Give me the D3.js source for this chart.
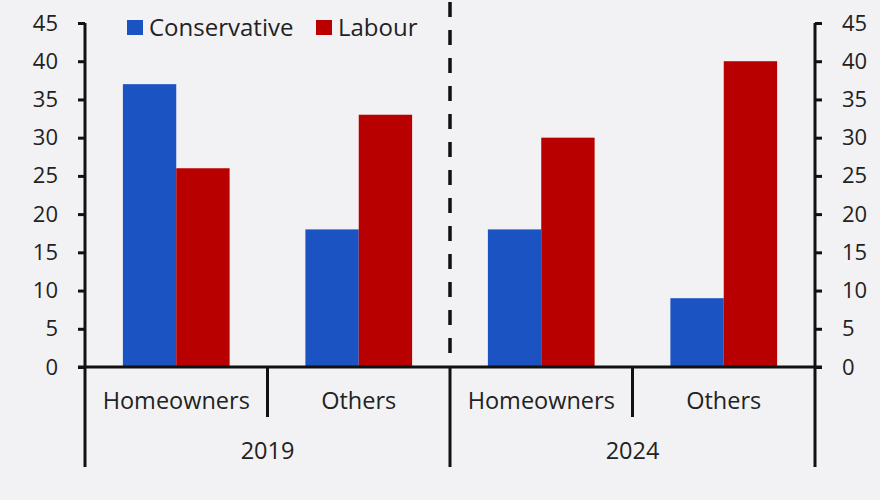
<!DOCTYPE html>
<html lang="en">
<head>
    <meta charset="UTF-8">
    <script src="https://d3js.org/d3.v7.min.js"></script>
    <style>
        html, body { margin: 0; padding: 0; background: #f2f2f4; }
        text { font-family: "Open Sans", "Noto Sans", sans-serif; fill: #222; }
    </style>
    <title>Conservative vs Labour</title>
</head>
<body>
    <script type="text/javascript">
    // data
    const years = ["2019", "2024"];
    const groups = ["Homeowners", "Others"];
    const series = ["Conservative", "Labour"];
    const colors = ["#1c53c2", "#b80000"];
    const conservative = [37, 18, 18, 9];   // 2019 H, 2019 O, 2024 H, 2024 O
    const labour = [26, 33, 30, 40];
    const yTicks = [0, 5, 10, 15, 20, 25, 30, 35, 40, 45];

    const w = 880;
    const h = 500;
    const mLeft = 85, mRight = 815, mTop = 23, base = 367;

    const cats = [];
    years.forEach(function(y) {
        groups.forEach(function(g) { cats.push(y + "|" + g); });
    });
    const rows = cats.map(function(c, i) {
        return { key: c, values: [conservative[i], labour[i]] };
    });

    const x0 = d3.scaleBand().domain(cats).range([mLeft, mRight]).paddingInner(0).paddingOuter(0);
    const x1 = d3.scaleBand().domain(series).range([0, x0.bandwidth()]).paddingOuter(0.71).paddingInner(0);
    const yScale = d3.scaleLinear().domain([0, 45]).range([base, mTop]);
    const xYear = d3.scaleBand().domain(years).range([mLeft, mRight]);

    const svg = d3.select("body")
        .append("svg")
        .attr("width", w)
        .attr("height", h);

    // bars
    const g = svg.selectAll("g.cat")
        .data(rows)
        .enter()
        .append("g")
        .attr("class", "cat")
        .attr("transform", function(d) { return "translate(" + x0(d.key) + ",0)"; });

    g.selectAll("rect")
        .data(function(d) { return d.values.map(function(v, i) { return { s: series[i], v: v, i: i }; }); })
        .enter()
        .append("rect")
        .attr("x", function(d) { return x1(d.s); })
        .attr("width", x1.bandwidth())
        .attr("y", function(d) { return yScale(d.v); })
        .attr("height", function(d) { return base - yScale(d.v); })
        .attr("fill", function(d) { return colors[d.i]; });

    // dashed divider between years
    svg.append("line")
        .attr("x1", xYear("2024")).attr("x2", xYear("2024"))
        .attr("y1", 2).attr("y2", base)
        .attr("stroke", "#111")
        .attr("stroke-width", 3.5)
        .attr("stroke-dasharray", "15,13");

    // y axes
    const leftAxis = d3.axisLeft(yScale).tickValues(yTicks).tickSize(7).tickPadding(20);
    const rightAxis = d3.axisRight(yScale).tickValues(yTicks).tickSize(7).tickPadding(20);

    [svg.append("g").attr("transform", "translate(" + mLeft + ",0)").call(leftAxis),
     svg.append("g").attr("transform", "translate(" + mRight + ",0)").call(rightAxis)]
        .forEach(function(ax) {
            ax.select(".domain").remove();
            ax.selectAll(".tick line").attr("stroke", "#111").attr("stroke-width", 3);
            ax.selectAll(".tick text")
                .attr("font-size", "22px")
                .attr("fill", "#222")
                .style("font-family", "'Open Sans', sans-serif");
        });

    // vertical axis lines
    svg.append("line")
        .attr("x1", mLeft).attr("x2", mLeft).attr("y1", mTop).attr("y2", 467)
        .attr("stroke", "#111").attr("stroke-width", 3);
    svg.append("line")
        .attr("x1", mRight).attr("x2", mRight).attr("y1", mTop).attr("y2", 467)
        .attr("stroke", "#111").attr("stroke-width", 3);

    // baseline
    svg.append("line")
        .attr("x1", mLeft - 7).attr("x2", mRight + 7).attr("y1", base).attr("y2", base)
        .attr("stroke", "#111").attr("stroke-width", 3);

    // category separators
    cats.forEach(function(c, i) {
        if (i === 0) return;
        const xx = x0(c);
        const isYear = (i % groups.length === 0);
        svg.append("line")
            .attr("x1", xx).attr("x2", xx)
            .attr("y1", base).attr("y2", isYear ? 467 : 417)
            .attr("stroke", "#111").attr("stroke-width", 3);
    });

    // category labels
    svg.selectAll("text.cat")
        .data(cats)
        .enter()
        .append("text")
        .attr("class", "cat")
        .attr("x", function(d) { return x0(d) + x0.bandwidth() / 2; })
        .attr("y", 409)
        .attr("text-anchor", "middle")
        .attr("font-size", "23.5px")
        .text(function(d) { return d.split("|")[1]; });

    svg.selectAll("text.year")
        .data(years)
        .enter()
        .append("text")
        .attr("class", "year")
        .attr("x", function(d) { return xYear(d) + xYear.bandwidth() / 2; })
        .attr("y", 459)
        .attr("text-anchor", "middle")
        .attr("font-size", "23.5px")
        .text(function(d) { return d; });

    // legend
    const legendX = [127, 316];
    const legend = svg.selectAll("g.legend")
        .data(series)
        .enter()
        .append("g")
        .attr("class", "legend")
        .attr("transform", function(d, i) { return "translate(" + legendX[i] + ",20)"; });

    legend.append("rect")
        .attr("width", 16).attr("height", 15)
        .attr("fill", function(d, i) { return colors[i]; });

    legend.append("text")
        .attr("x", 22)
        .attr("y", 16)
        .attr("font-size", "24px")
        .text(function(d) { return d; });
    </script>
</body>
</html>
